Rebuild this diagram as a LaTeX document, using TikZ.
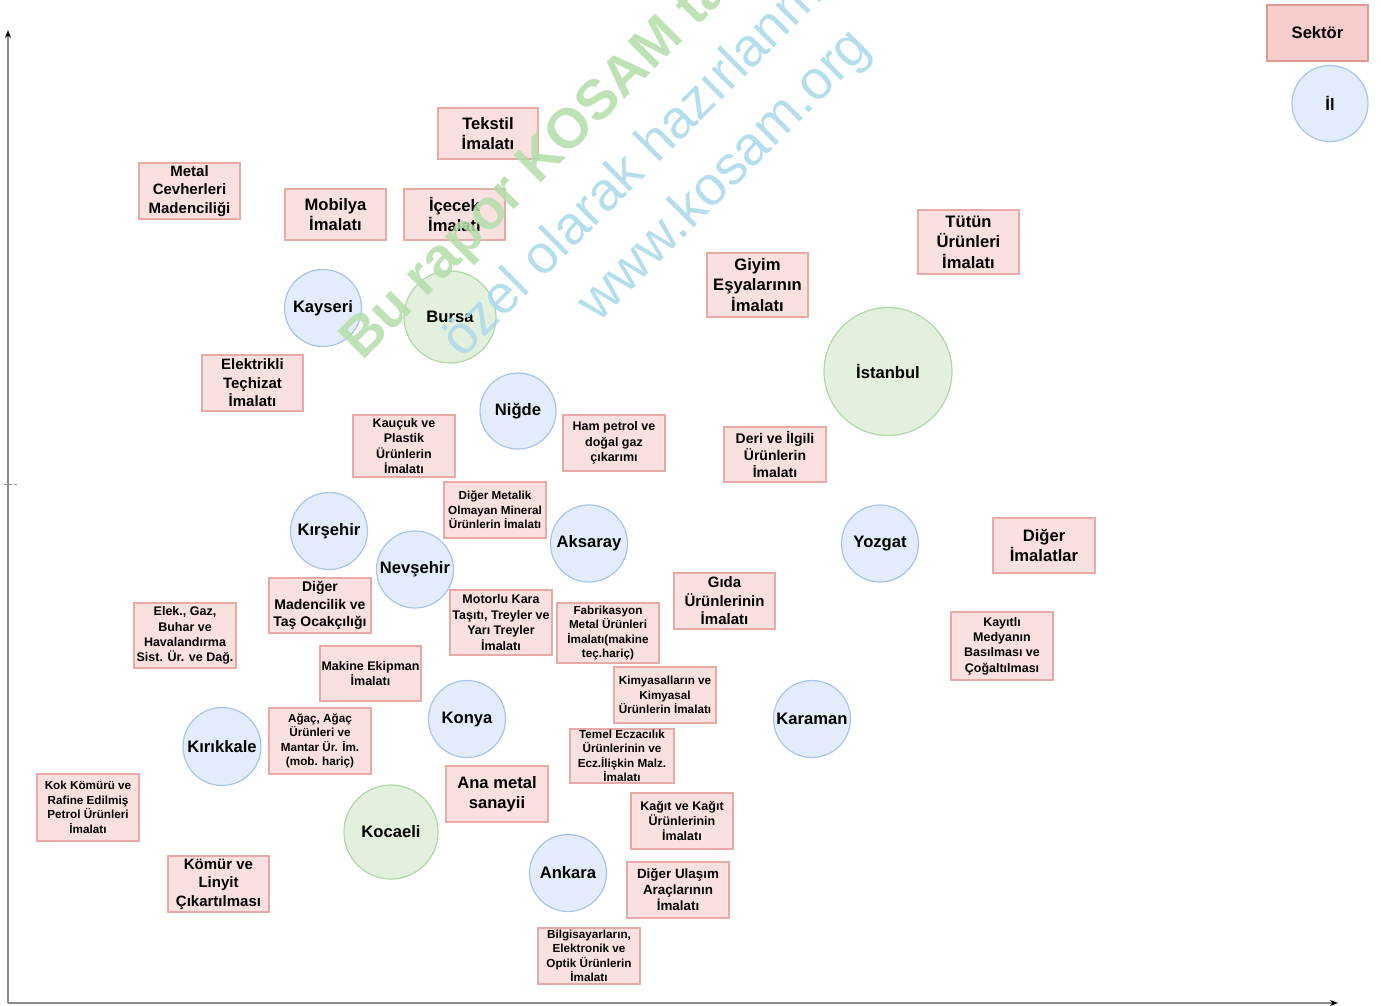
\documentclass[tikz,border=0pt]{standalone}
\usepackage{fontspec}
\setmainfont{Liberation Sans}
\usetikzlibrary{arrows.meta}
\definecolor{boxfill}{HTML}{FAE1DF}
\definecolor{boxline}{HTML}{E8AAA7}
\definecolor{hdrfill}{HTML}{F8CECC}
\definecolor{hdrline}{HTML}{DE9A97}
\definecolor{cityfill}{HTML}{E3ECFA}
\definecolor{cityline}{HTML}{A9C4EB}
\definecolor{bigfill}{HTML}{E3F0DD}
\definecolor{bigline}{HTML}{AFD8A6}
\definecolor{wmgreen}{HTML}{B3DEAA}
\definecolor{wmblue}{HTML}{A9D9EB}
\definecolor{axisgray}{HTML}{8A8A8A}
\tikzset{
  fa/.style={font=\bfseries\fontsize{16.6}{20.6}\selectfont},
  fb/.style={font=\bfseries\fontsize{15}{18.6}\selectfont},
  fc/.style={font=\bfseries\fontsize{14}{17.4}\selectfont},
  fcc/.style={font=\bfseries\fontsize{13.4}{16}\selectfont},
  fd/.style={font=\bfseries\fontsize{12.5}{15.4}\selectfont},
  fe/.style={font=\bfseries\fontsize{11.7}{14.5}\selectfont},
  sbox/.style={draw=boxline, fill=boxfill, line width=1.2pt, rectangle, align=center, inner sep=0pt, text=black},
  hdrbox/.style={sbox, draw=hdrline, fill=hdrfill},
  city/.style={circle, draw=cityline, fill=cityfill, line width=1.2pt, inner sep=0pt, text=black, fa},
  bigcity/.style={city, draw=bigline, fill=bigfill},
  axis/.style={draw=axisgray, line width=1.3pt, -{Stealth[length=8pt,width=6pt,black]}},
  wm/.style={anchor=base west, rotate=45, inner sep=0pt, opacity=0.85}
}
\newcommand\bx[6]{\node[sbox,#6, minimum width=#3, minimum height=#4] (#1) at (#2) {#5};}
\begin{document}
\begin{tikzpicture}[x=1pt,y=-1pt]
\useasboundingbox (0,0) rectangle (1381,1005);
\fill[white] (0,0) rectangle (1381,1005);
% axes
\coordinate (origin) at (8,1003);
\coordinate (ytop) at (8,30);
\coordinate (xend) at (1338,1003);
\coordinate (tickl) at (4,484);
\coordinate (tickr) at (18,484);
\draw[axis] (origin) -- (ytop);
\draw[axis] (origin) -- (xend);
\draw[axisgray, line width=1pt, dash pattern=on 3pt off 2pt] (tickl) -- (tickr);
% legend
\node[hdrbox, fa, minimum width=101, minimum height=56] (sektor) at (1317.5,33) {Sektör};
\node[city, minimum size=76] (il) at (1330,103.5) {İl};
% sector boxes
\bx{tekstil}{488,133.5}{100}{51}{Tekstil\\İmalatı}{fa}
\bx{metal}{189.5,191}{101}{56}{Metal\\Cevherleri\\Madenciliği}{fb}
\bx{mobilya}{335.5,214.5}{101}{51}{Mobilya\\İmalatı}{fa}
\bx{icecek}{454.5,214.5}{101}{51}{İçecek\\İmalatı}{fa}
\bx{giyim}{757.5,285}{101}{64}{Giyim\\Eşyalarının\\İmalatı}{fa}
\bx{tutun}{968.5,242}{101}{64}{Tütün\\Ürünleri\\İmalatı}{fa}
\bx{elektrikli}{252.5,383}{101}{56}{Elektrikli\\Teçhizat\\İmalatı}{fb}
\bx{kaucuk}{404,446}{102}{62}{Kauçuk ve\\Plastik\\Ürünlerin\\İmalatı}{fd}
\bx{hampetrol}{614,443}{102}{56}{Ham petrol ve\\doğal gaz\\çıkarımı}{fd}
\bx{deri}{775,454.5}{102}{55}{Deri ve İlgili\\Ürünlerin\\İmalatı}{fc}
\bx{digermetalik}{495,510}{102}{56}{Diğer Metalik\\Olmayan Mineral\\Ürünlerin İmalatı}{fe}
\bx{digerimalat}{1044,545.5}{102}{55}{Diğer\\İmalatlar}{fa}
\bx{kayitli}{1002,646}{102}{68}{Kayıtlı\\Medyanın\\Basılması ve\\Çoğaltılması}{fd}
\bx{gida}{724.5,601}{101}{56}{Gıda\\Ürünlerinin\\İmalatı}{fb}
\bx{digermaden}{320,605.5}{102}{55}{Diğer\\Madencilik ve\\Taş Ocakçılığı}{fc}
\bx{elek}{185,635.5}{102}{65}{Elek., Gaz,\\Buhar ve\\Havalandırma\\Sist. Ür. ve Dağ.}{fd}
\bx{motorlu}{501,622.5}{102}{65}{Motorlu Kara\\Taşıtı, Treyler ve\\Yarı Treyler\\İmalatı}{fd}
\bx{fabrikasyon}{608,633}{102}{60}{Fabrikasyon\\Metal Ürünleri\\İmalatı(makine\\teç.hariç)}{fe}
\bx{makine}{370.5,673.5}{101}{55}{Makine Ekipman\\İmalatı}{fd}
\bx{kimyasal}{665,695}{102}{56}{Kimyasalların ve\\Kimyasal\\Ürünlerin İmalatı}{fe}
\bx{temel}{622,756}{104}{54}{Temel Eczacılık\\Ürünlerinin ve\\Ecz.İlişkin Malz.\\İmalatı}{fe}
\bx{kagit}{682,821}{102}{56}{Kağıt ve Kağıt\\Ürünlerinin\\İmalatı}{fd}
\bx{digerulasim}{678,890}{102}{56}{Diğer Ulaşım\\Araçlarının\\İmalatı}{fcc}
\bx{bilgisayar}{589,956}{102}{56}{Bilgisayarların,\\Elektronik ve\\Optik Ürünlerin\\İmalatı}{fe}
\bx{agac}{320,741}{102}{66}{Ağaç, Ağaç\\Ürünleri ve\\Mantar Ür. İm.\\(mob. hariç)}{fe}
\bx{anametal}{497,794}{102}{56}{Ana metal\\sanayii}{fa}
\bx{komur}{218.5,884}{101}{56}{Kömür ve\\Linyit\\Çıkartılması}{fb}
\bx{kok}{88,807.5}{102}{67}{Kok Kömürü ve\\Rafine Edilmiş\\Petrol Ürünleri\\İmalatı}{fe}
% provinces
\node[city, minimum size=77] (kayseri) at (323,308) {Kayseri};
\node[bigcity, minimum size=92] (bursa) at (450,317) {Bursa};
\node[bigcity, minimum size=128] (istanbul) at (888,371.5) {İstanbul};
\node[city, minimum size=76] (nigde) at (518,411) {Niğde};
\node[city, minimum size=77] (kirsehir) at (329,531) {Kırşehir};
\node[city, minimum size=77] (nevsehir) at (415,569.5) {Nevşehir};
\node[city, minimum size=77] (aksaray) at (589,543.5) {Aksaray};
\node[city, minimum size=77] (yozgat) at (880,543.5) {Yozgat};
\node[city, minimum size=77] (karaman) at (812,719) {Karaman};
\node[city, minimum size=77] (konya) at (467,719) {Konya};
\node[city, minimum size=78] (kirikkale) at (222,746.5) {Kırıkkale};
\node[bigcity, minimum size=94] (kocaeli) at (391,832) {Kocaeli};
\node[city, minimum size=77] (ankara) at (568,873) {Ankara};
% watermark
\begin{scope}
\clip (0,0) rectangle (1381,1005);
\node[wm, text=wmgreen, font=\bfseries\fontsize{56}{64}\selectfont] (wmone) at (362,362) {Bu rapor KOSAM tarafından};
\node[wm, text=wmblue, font=\fontsize{54}{62}\selectfont] (wmtwo) at (462,360) {özel olarak hazırlanmıştır};
\node[wm, text=wmblue, font=\fontsize{55}{63}\selectfont] (wmthree) at (598,324) {www.kosam.org};
\end{scope}
\end{tikzpicture}
\end{document}
